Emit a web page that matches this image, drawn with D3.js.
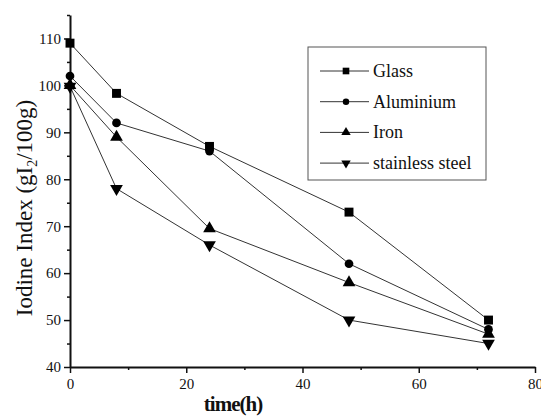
<!DOCTYPE html>
<html>
<head>
<meta charset="utf-8">
<script src="https://cdn.jsdelivr.net/npm/d3@7"></script>
<style>
  body { margin: 0; background: #fff; }
  text { font-family: "Liberation Serif", "DejaVu Serif", serif; fill: #111; }
</style>
</head>
<body>
<div id="chart"></div>
<script>
// values
const times = [0, 8, 24, 48, 72];
const glass = [109, 98.3, 87, 73, 50];
const aluminium = [102, 92, 86, 62, 48];
const iron = [100, 89, 69.5, 58, 47];
const stainless = [99.8, 78, 66, 50, 45];
const seriesNames = ['Glass', 'Aluminium', 'Iron', 'stainless steel'];
const xTicks = [0, 20, 40, 60, 80];
const yTicks = [40, 50, 60, 70, 80, 90, 100, 110];

const containerWidth = 541, containerHeight = 416;
const margin = { left: 70, right: 6, top: 15, bottom: 49 };
const width = containerWidth - margin.left - margin.right;
const height = containerHeight - margin.top - margin.bottom;

const svg = d3.select('#chart').append('svg')
    .attr('width', containerWidth)
    .attr('height', containerHeight);

const chart = svg.append('g').attr('transform', `translate(${margin.left}, ${margin.top})`);

const xScale = d3.scaleLinear().domain([0, 80]).range([0, width]);
const yScale = d3.scaleLinear().domain([40, 115]).range([height, 0]);

// minor ticks first
chart.append('g')
    .attr('transform', `translate(0, ${height})`)
    .call(d3.axisBottom(xScale).tickValues([10, 30, 50, 70]).tickSize(3).tickFormat(''))
    .call(g => g.select('.domain').remove())
    .selectAll('line').attr('stroke', '#111').attr('stroke-width', 1.5);
chart.append('g')
    .call(d3.axisLeft(yScale).tickValues([45, 55, 65, 75, 85, 95, 105, 115]).tickSize(3).tickFormat(''))
    .call(g => g.select('.domain').remove())
    .selectAll('line').attr('stroke', '#111').attr('stroke-width', 1.5);

const xAxis = chart.append('g')
    .attr('transform', `translate(0, ${height})`)
    .call(d3.axisBottom(xScale).tickValues(xTicks).tickSize(6).tickPadding(5).tickSizeOuter(0));
const yAxis = chart.append('g')
    .call(d3.axisLeft(yScale).tickValues(yTicks).tickSize(6).tickPadding(3).tickSizeOuter(0));

[xAxis, yAxis].forEach(ax => {
    ax.attr('font-family', null);
    ax.select('.domain').attr('stroke', '#111').attr('stroke-width', 2);
    ax.selectAll('.tick line').attr('stroke', '#111').attr('stroke-width', 1.5);
    ax.selectAll('.tick text')
        .attr('font-size', 15)
        .attr('fill', '#111');
});

const symbols = [d3.symbolSquare, d3.symbolCircle, d3.symbolTriangle, d3.symbolTriangle];
const symbolSizes = [80, 60, 70, 70];
const rotations = [0, 0, 0, 180];
const allSeries = [glass, aluminium, iron, stainless];

const line = d3.line()
    .x((d, i) => xScale(times[i]))
    .y(d => yScale(d));

allSeries.forEach((values, s) => {
    chart.append('path')
        .datum(values)
        .attr('fill', 'none')
        .attr('stroke', '#333')
        .attr('stroke-width', 1)
        .attr('d', line);
});

allSeries.forEach((values, s) => {
    chart.selectAll(`.pt${s}`)
        .data(values)
        .join('path')
        .attr('class', `pt${s}`)
        .attr('d', d3.symbol().type(symbols[s]).size(symbolSizes[s]))
        .attr('fill', '#000')
        .attr('transform', (d, i) => `translate(${xScale(times[i])}, ${yScale(d)}) rotate(${rotations[s]})`);
});

// legend
const legend = svg.append('g').attr('transform', 'translate(308, 47)');
legend.append('rect')
    .attr('width', 178).attr('height', 133)
    .attr('fill', '#fff').attr('stroke', '#555').attr('stroke-width', 1);

seriesNames.forEach((name, s) => {
    const yPos = 24 + s * 30.7;
    legend.append('line')
        .attr('x1', 12).attr('x2', 61).attr('y1', yPos).attr('y2', yPos)
        .attr('stroke', '#333').attr('stroke-width', 1);
    legend.append('path')
        .attr('d', d3.symbol().type(symbols[s]).size(symbolSizes[s] * 0.55))
        .attr('fill', '#000')
        .attr('transform', `translate(38, ${yPos}) rotate(${rotations[s]})`);
    legend.append('text')
        .attr('x', 65).attr('y', yPos + 6)
        .attr('font-size', 18)
        .text(name);
});

// axis titles
svg.append('text')
    .attr('x', 233).attr('y', 411)
    .attr('text-anchor', 'middle')
    .attr('font-size', 21)
    .attr('font-weight', 'bold')
    .attr('letter-spacing', -1)
    .text('time(h)');

const yTitle = svg.append('text')
    .attr('transform', 'translate(32, 208) rotate(-90)')
    .attr('text-anchor', 'middle')
    .attr('font-size', 23);
yTitle.append('tspan').text('Iodine Index (gI');
yTitle.append('tspan').attr('font-size', 14).attr('dy', 5).text('2');
yTitle.append('tspan').attr('dy', -5).text('/100g)');
</script>
</body>
</html>
